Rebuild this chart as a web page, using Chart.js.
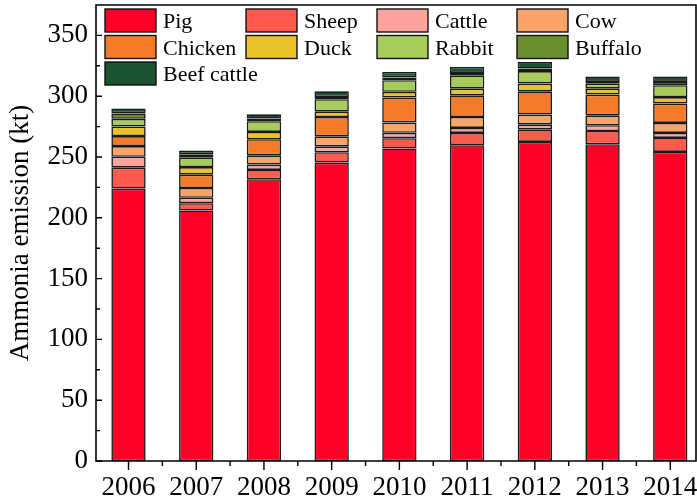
<!DOCTYPE html>
<html>
<head>
<meta charset="utf-8">
<script src="https://cdn.jsdelivr.net/npm/chart.js@4/dist/chart.umd.min.js"></script>
<style>
  html, body { margin: 0; padding: 0; background: #fff; }
  #wrap { width: 697px; height: 501px; }
</style>
</head>
<body>
<div id="wrap"><canvas id="c" width="697" height="501"></canvas></div>
<script>
// Livestock ammonia emissions by source (kt), 2006-2014
const years     = [2006, 2007, 2008, 2009, 2010, 2011, 2012, 2013, 2014];
const pig       = [224.0, 206.0, 231.7, 245.4, 257.0, 259.7, 262.4, 260.5, 254.2];
const sheep     = [17.2, 6.0, 7.7, 8.5, 8.5, 10.1, 10.4, 10.9, 11.5];
const cattle    = [9.0, 4.5, 4.4, 4.9, 4.4, 4.1, 4.1, 4.7, 4.1];
const cow       = [8.8, 8.0, 7.6, 8.2, 8.5, 9.0, 8.0, 8.2, 8.2];
const chicken   = [8.2, 11.0, 13.2, 15.9, 20.5, 17.8, 19.1, 17.0, 15.9];
const duck      = [7.9, 6.2, 6.0, 4.7, 4.7, 5.5, 6.4, 4.9, 5.4];
const rabbit    = [6.3, 8.0, 8.8, 9.9, 9.6, 11.0, 10.3, 4.1, 9.7];
const buffalo   = [4.4, 2.5, 2.2, 1.8, 2.2, 1.9, 2.0, 1.4, 2.7];
const beefCattle= [4.1, 3.2, 3.5, 4.7, 4.6, 4.9, 5.4, 4.6, 4.6];

const yTicks = [0, 50, 100, 150, 200, 250, 300, 350];

const series = [
  { label: 'Pig',         values: pig,        color: '#FF0026' },
  { label: 'Sheep',       values: sheep,      color: '#FF5A4E' },
  { label: 'Cattle',      values: cattle,     color: '#FFA39E' },
  { label: 'Cow',         values: cow,        color: '#F9A56A' },
  { label: 'Chicken',     values: chicken,    color: '#F47B2A' },
  { label: 'Duck',        values: duck,       color: '#EAC32A' },
  { label: 'Rabbit',      values: rabbit,     color: '#A8CC5A' },
  { label: 'Buffalo',     values: buffalo,    color: '#6B8E2E' },
  { label: 'Beef cattle', values: beefCattle, color: '#1A5431' }
];

const FONT = '"Liberation Serif", "Times New Roman", Times, serif';

// Frame, inward y ticks, outward x ticks (major + minor)
const framePlugin = {
  id: 'frame',
  afterDraw(chart) {
    const { ctx, chartArea: a, scales: { x, y } } = chart;
    ctx.save();
    ctx.strokeStyle = '#000';
    ctx.lineWidth = 1.6;
    ctx.beginPath();
    ctx.rect(a.left, a.top, a.right - a.left, a.bottom - a.top);
    ctx.stroke();
    ctx.lineWidth = 1.4;
    ctx.beginPath();
    // y axis: majors every 50, minors halfway, drawn into the plot
    yTicks.forEach(v => {
      const py = y.getPixelForValue(v);
      ctx.moveTo(a.left, py); ctx.lineTo(a.left + 6, py);
      const pm = y.getPixelForValue(v + 25);
      if (pm > a.top + 2) { ctx.moveTo(a.left, pm); ctx.lineTo(a.left + 4, pm); }
    });
    // x axis: majors at each year, minors between years, drawn outward
    years.forEach(yr => {
      const px = x.getPixelForValue(yr);
      ctx.moveTo(px, a.bottom); ctx.lineTo(px, a.bottom + 9);
      const pm = x.getPixelForValue(yr + 0.5);
      if (pm < a.right - 2) { ctx.moveTo(pm, a.bottom); ctx.lineTo(pm, a.bottom + 5); }
    });
    ctx.stroke();
    ctx.restore();
  }
};

// Grid legend inside the plot, top-left
const gridLegend = {
  id: 'gridLegend',
  afterDraw(chart) {
    const { ctx } = chart;
    const colX = [105, 246, 377, 517];
    const rowY = [9, 35.5, 62];
    const boxW = 51, boxH = 23;
    ctx.save();
    ctx.font = '22px ' + FONT;
    ctx.textBaseline = 'middle';
    chart.data.datasets.forEach((ds, i) => {
      const cx = colX[i % 4], cy = rowY[Math.floor(i / 4)];
      ctx.fillStyle = ds.backgroundColor;
      ctx.fillRect(cx, cy, boxW, boxH);
      ctx.strokeStyle = '#111';
      ctx.lineWidth = 1.4;
      ctx.strokeRect(cx, cy, boxW, boxH);
      ctx.fillStyle = '#000';
      ctx.fillText(ds.label, cx + boxW + 7, cy + boxH / 2 + 2);
    });
    ctx.restore();
  }
};

new Chart(document.getElementById('c'), {
  type: 'bar',
  data: {
    datasets: series.map(s => ({
      label: s.label,
      data: years.map((yr, i) => ({ x: yr, y: s.values[i] })),
      backgroundColor: s.color,
      borderColor: '#1a1a1a',
      borderWidth: 1.6,
      borderSkipped: false,
      barPercentage: 0.507,
      categoryPercentage: 1.0
    }))
  },
  options: {
    responsive: false,
    animation: false,
    layout: { padding: { top: 5, right: 1, left: 0, bottom: 0 } },
    plugins: { legend: { display: false }, tooltip: { enabled: false } },
    scales: {
      x: {
        type: 'linear',
        offset: false,
        stacked: true,
        min: 2005.52,
        max: 2014.38,
        afterFit: s => { s.height = 40; s.paddingLeft = 0; s.paddingRight = 0; },
        grid: { display: false, drawTicks: false, offset: false },
        border: { display: false },
        ticks: {
          stepSize: 1,
          includeBounds: false,
          padding: 11,
          color: '#000',
          font: { family: FONT, size: 27 },
          callback: v => Number.isInteger(v) ? String(v) : ''
        }
      },
      y: {
        stacked: true,
        min: 0,
        max: 375,
        afterFit: s => { s.width = 96; s.paddingTop = 0; s.paddingBottom = 0; },
        grid: { display: false, drawTicks: false },
        border: { display: false },
        ticks: {
          stepSize: 50,
          includeBounds: false,
          padding: 8,
          color: '#000',
          font: { family: FONT, size: 27 },
          callback: v => yTicks.includes(v) ? String(v) : ''
        },
        title: {
          display: true,
          text: 'Ammonia emission (kt)',
          color: '#000',
          font: { family: FONT, size: 27 },
          padding: { top: 5, bottom: 0 }
        }
      }
    }
  },
  plugins: [framePlugin, gridLegend]
});
</script>
</body>
</html>
